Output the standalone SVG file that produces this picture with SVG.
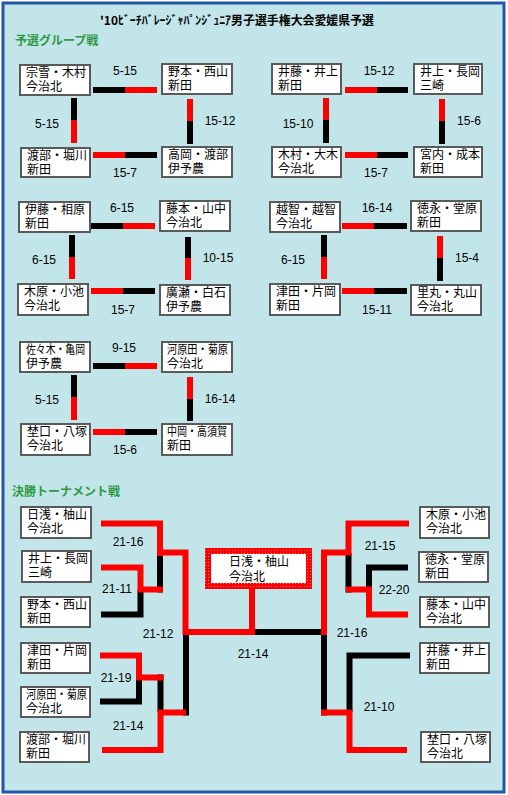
<svg xmlns="http://www.w3.org/2000/svg" width="508" height="795" viewBox="0 0 508 795">
<style>
.bx{fill:#fff;stroke:#5a5a5a;stroke-width:2}
.t{font-family:"Noto Sans CJK JP","Liberation Sans",sans-serif;font-size:12px;fill:#000}
.s{font-family:"Liberation Sans",sans-serif;font-size:12px;fill:#000;text-anchor:middle}
.h{font-family:"Noto Sans CJK JP",sans-serif;font-size:12px;font-weight:bold;fill:#2f9a44}
.k{stroke:#000;stroke-width:6;fill:none;stroke-linejoin:miter}
.r{stroke:#ff0000;stroke-width:6;fill:none;stroke-linejoin:miter}
</style>
<defs>
<pattern id="dots" width="3" height="3" patternUnits="userSpaceOnUse">
<rect width="3" height="3" fill="#ff0000"/>
<rect x="1" y="1" width="1" height="1" fill="#ff7a7a"/>
</pattern>
</defs>
<rect x="0" y="0" width="508" height="795" fill="#fff"/>
<rect x="3" y="3" width="501" height="789" fill="#c2e5e9" stroke="#2456a6" stroke-width="3"/>
<text x="100" y="25" class="t" font-weight="bold" textLength="274" lengthAdjust="spacingAndGlyphs">'10ﾋﾞｰﾁﾊﾞﾚｰｼﾞｬﾊﾟﾝｼﾞｭﾆｱ男子選手権大会愛媛県予選</text>
<text x="15" y="45" class="h">予選グループ戦</text>
<text x="12" y="496" class="h">決勝トーナメント戦</text>

<g id="connectors">
<path class="k" d="M93,90H125"/><path class="r" d="M125,90H157"/>
<path class="k" d="M74,98V120"/><path class="r" d="M74,120V143"/>
<path class="r" d="M190,99V121"/><path class="k" d="M190,121V144"/>
<path class="r" d="M93,155H125"/><path class="k" d="M125,155H157"/>
<path class="r" d="M345,90H377"/><path class="k" d="M377,90H408"/>
<path class="r" d="M326,98V120"/><path class="k" d="M326,120V143"/>
<path class="r" d="M442,99V121"/><path class="k" d="M442,121V144"/>
<path class="r" d="M345,155H377"/><path class="k" d="M377,155H408"/>
<path class="k" d="M91,226H123"/><path class="r" d="M123,226H155"/>
<path class="k" d="M72,235V257"/><path class="r" d="M72,257V279"/>
<path class="k" d="M188,237V258"/><path class="r" d="M188,258V280"/>
<path class="r" d="M91,291H123"/><path class="k" d="M123,291H155"/>
<path class="r" d="M342,226H374"/><path class="k" d="M374,226H407"/>
<path class="k" d="M324,235V257"/><path class="r" d="M324,257V279"/>
<path class="r" d="M440,236V258"/><path class="k" d="M440,258V281"/>
<path class="r" d="M342,291H374"/><path class="k" d="M374,291H407"/>
<path class="k" d="M93,366H125"/><path class="r" d="M125,366H157"/>
<path class="k" d="M74,375V397"/><path class="r" d="M74,397V420"/>
<path class="r" d="M190,377V399"/><path class="k" d="M190,399V421"/>
<path class="r" d="M93,432H125"/><path class="k" d="M125,432H157"/>

<path class="k" d="M160,553V592.5"/>
<path class="r" d="M101,523.5H160V556"/>
<path class="r" d="M157,552.5H185.5V632H255"/>
<path class="k" d="M101,614.5H140.5V589.5"/>
<path class="r" d="M101,567.5H140.5V589.5H163"/>
<path class="k" d="M186,635V715.5"/>
<path class="k" d="M160.5,674.5V712"/>
<path class="r" d="M102,750H160.5V712.5H186"/>
<path class="k" d="M100,701.5H139V677.5"/>
<path class="r" d="M100,655.5H139V677.5H163.5"/>
<path class="r" d="M252,589V635"/>
<path class="k" d="M255,632H327"/>
<path class="k" d="M348.5,553V592.5"/>
<path class="r" d="M324,636V552.5H348.5V523.5H409"/>
<path class="k" d="M408,567.5H369V590"/>
<path class="r" d="M346,589.5H369V614.5H408"/>
<path class="k" d="M324,635V715.5"/>
<path class="k" d="M410,655.5H349.5V712"/>
<path class="r" d="M321,712.5H349.5V750H407"/>
</g>

<g id="scores">
<text x="125" y="75" class="s">5-15</text>
<text x="47" y="128" class="s">5-15</text>
<text x="220" y="125" class="s">15-12</text>
<text x="125" y="177" class="s">15-7</text>
<text x="379" y="75" class="s">15-12</text>
<text x="298" y="128" class="s">15-10</text>
<text x="469" y="125" class="s">15-6</text>
<text x="376" y="177" class="s">15-7</text>
<text x="122" y="212" class="s">6-15</text>
<text x="44" y="264" class="s">6-15</text>
<text x="218" y="262" class="s">10-15</text>
<text x="123" y="314" class="s">15-7</text>
<text x="377" y="212" class="s">16-14</text>
<text x="293" y="264" class="s">6-15</text>
<text x="467" y="262" class="s">15-4</text>
<text x="377" y="314" class="s">15-11</text>
<text x="124" y="352" class="s">9-15</text>
<text x="47" y="404" class="s">5-15</text>
<text x="220" y="403" class="s">16-14</text>
<text x="125" y="454" class="s">15-6</text>
<text x="128" y="546" class="s">21-16</text>
<text x="117" y="593" class="s">21-11</text>
<text x="158" y="638" class="s">21-12</text>
<text x="116" y="682" class="s">21-19</text>
<text x="128" y="730" class="s">21-14</text>
<text x="253" y="658" class="s">21-14</text>
<text x="380" y="550" class="s">21-15</text>
<text x="394" y="594" class="s">22-20</text>
<text x="352" y="637" class="s">21-16</text>
<text x="379" y="711" class="s">21-10</text>
</g>

<g id="g1a"><rect class="bx" x="20" y="65" width="70" height="30"/><text class="t" x="26" y="76.5">宗雪・木村<tspan x="26" dy="14">今治北</tspan></text></g>
<g id="g1b"><rect class="bx" x="162" y="64" width="70" height="30"/><text class="t" x="168" y="75.5">野本・西山<tspan x="168" dy="14">新田</tspan></text></g>
<g id="g1c"><rect class="bx" x="21" y="148" width="69" height="29"/><text class="t" x="27" y="159.5">渡部・堀川<tspan x="27" dy="14">新田</tspan></text></g>
<g id="g1d"><rect class="bx" x="162" y="147" width="70" height="30"/><text class="t" x="168" y="158.5">高岡・渡部<tspan x="168" dy="14">伊予農</tspan></text></g>

<g id="g2a"><rect class="bx" x="272" y="64" width="69" height="30"/><text class="t" x="278" y="75.5">井藤・井上<tspan x="278" dy="14">新田</tspan></text></g>
<g id="g2b"><rect class="bx" x="414" y="64" width="68" height="30"/><text class="t" x="420" y="75.5">井上・長岡<tspan x="420" dy="14">三崎</tspan></text></g>
<g id="g2c"><rect class="bx" x="272" y="147" width="69" height="30"/><text class="t" x="278" y="158.5">木村・大木<tspan x="278" dy="14">今治北</tspan></text></g>
<g id="g2d"><rect class="bx" x="414" y="147" width="68" height="30"/><text class="t" x="420" y="158.5">宮内・成本<tspan x="420" dy="14">新田</tspan></text></g>

<g id="g3a"><rect class="bx" x="19" y="202" width="71" height="30"/><text class="t" x="25" y="213.5">伊藤・相原<tspan x="25" dy="14">新田</tspan></text></g>
<g id="g3b"><rect class="bx" x="160" y="201" width="70" height="30"/><text class="t" x="166" y="212.5">藤本・山中<tspan x="166" dy="14">今治北</tspan></text></g>
<g id="g3c"><rect class="bx" x="18" y="284" width="70" height="31"/><text class="t" x="24" y="295.5">木原・小池<tspan x="24" dy="14">今治北</tspan></text></g>
<g id="g3d"><rect class="bx" x="160" y="285" width="70" height="30"/><text class="t" x="166" y="296.5">廣瀬・白石<tspan x="166" dy="14">伊予農</tspan></text></g>

<g id="g4a"><rect class="bx" x="270" y="202" width="70" height="30"/><text class="t" x="276" y="213.5">越智・越智<tspan x="276" dy="14">今治北</tspan></text></g>
<g id="g4b"><rect class="bx" x="411" y="201" width="70" height="30"/><text class="t" x="417" y="212.5">徳永・堂原<tspan x="417" dy="14">新田</tspan></text></g>
<g id="g4c"><rect class="bx" x="270" y="284" width="70" height="31"/><text class="t" x="276" y="295.5">津田・片岡<tspan x="276" dy="14">新田</tspan></text></g>
<g id="g4d"><rect class="bx" x="411" y="285" width="70" height="30"/><text class="t" x="417" y="296.5">里丸・丸山<tspan x="417" dy="14">今治北</tspan></text></g>

<g id="g5a"><rect class="bx" x="20" y="342" width="70" height="30"/><text class="t" x="26" y="353.5"><tspan textLength="59" lengthAdjust="spacingAndGlyphs">佐々木・亀岡</tspan><tspan x="26" dy="14">伊予農</tspan></text></g>
<g id="g5b"><rect class="bx" x="162" y="342" width="70" height="30"/><text class="t" x="167" y="353.5"><tspan textLength="61" lengthAdjust="spacingAndGlyphs">河原田・菊原</tspan><tspan x="167" dy="14">今治北</tspan></text></g>
<g id="g5c"><rect class="bx" x="21" y="424" width="69" height="31"/><text class="t" x="27" y="435.5">埜口・八塚<tspan x="27" dy="14">今治北</tspan></text></g>
<g id="g5d"><rect class="bx" x="162" y="424" width="70" height="31"/><text class="t" x="167" y="435.5"><tspan textLength="60" lengthAdjust="spacingAndGlyphs">中岡・高須賀</tspan><tspan x="167" dy="14">新田</tspan></text></g>

<g id="tl1"><rect class="bx" x="21" y="507" width="70" height="31"/><text class="t" x="27" y="518.5">日浅・柚山<tspan x="27" dy="14">今治北</tspan></text></g>
<g id="tl2"><rect class="bx" x="22" y="551" width="69" height="31"/><text class="t" x="28" y="562.5">井上・長岡<tspan x="28" dy="14">三崎</tspan></text></g>
<g id="tl3"><rect class="bx" x="21" y="597" width="69" height="30"/><text class="t" x="27" y="608.5">野本・西山<tspan x="27" dy="14">新田</tspan></text></g>
<g id="tl4"><rect class="bx" x="21" y="643" width="69" height="30"/><text class="t" x="27" y="654.5">津田・片岡<tspan x="27" dy="14">新田</tspan></text></g>
<g id="tl5"><rect class="bx" x="21" y="687" width="69" height="30"/><text class="t" x="26" y="698.5"><tspan textLength="61" lengthAdjust="spacingAndGlyphs">河原田・菊原</tspan><tspan x="26" dy="14">今治北</tspan></text></g>
<g id="tl6"><rect class="bx" x="20" y="732" width="69" height="30"/><text class="t" x="26" y="743.5">渡部・堀川<tspan x="26" dy="14">新田</tspan></text></g>

<g id="tr1"><rect class="bx" x="420" y="507" width="69" height="31"/><text class="t" x="426" y="518.5">木原・小池<tspan x="426" dy="14">今治北</tspan></text></g>
<g id="tr2"><rect class="bx" x="419" y="552" width="69" height="30"/><text class="t" x="425" y="563.5">徳永・堂原<tspan x="425" dy="14">新田</tspan></text></g>
<g id="tr3"><rect class="bx" x="420" y="597" width="69" height="30"/><text class="t" x="426" y="608.5">藤本・山中<tspan x="426" dy="14">今治北</tspan></text></g>
<g id="tr4"><rect class="bx" x="420" y="643" width="69" height="30"/><text class="t" x="426" y="654.5">井藤・井上<tspan x="426" dy="14">新田</tspan></text></g>
<g id="tr5"><rect class="bx" x="421" y="732" width="69" height="30"/><text class="t" x="427" y="743.5">埜口・八塚<tspan x="427" dy="14">今治北</tspan></text></g>

<g id="champion"><rect x="208" y="551" width="101" height="35" fill="#fff" stroke="url(#dots)" stroke-width="6"/><text class="t" x="229" y="566">日浅・柚山<tspan x="229" dy="15">今治北</tspan></text></g>
</svg>
